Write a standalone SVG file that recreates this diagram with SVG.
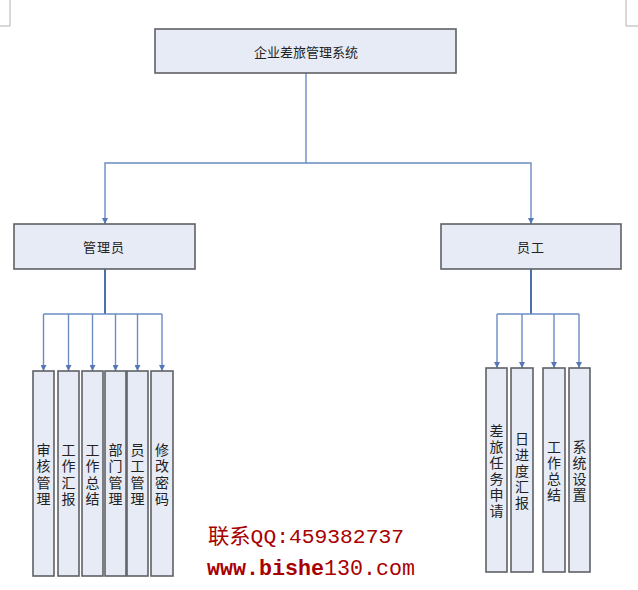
<svg xmlns="http://www.w3.org/2000/svg" width="638" height="590" viewBox="0 0 638 590">
<style>
.box{fill:#e6ebf5;stroke:#5f6166;stroke-width:1.6}
.lbl{font-family:"Noto Sans CJK SC","Noto Sans",sans-serif;font-size:13px;fill:#222;text-anchor:middle;dominant-baseline:central}
.vl{font-family:"Noto Sans CJK SC","Noto Sans",sans-serif;font-size:14px;fill:#222;text-anchor:middle;dominant-baseline:central}
.con{fill:none;stroke:#6b8cc4;stroke-width:1.4}
.trunk{fill:none;stroke:#4e6fae;stroke-width:2}
.mark{fill:none;stroke:#b0b0b0;stroke-width:1}
.wm{font-family:"Liberation Mono","Noto Sans CJK SC",monospace;fill:#a80000}
</style>
<defs>
<marker id="arr" viewBox="0 0 10 10" refX="10" refY="5" markerWidth="6" markerHeight="6" markerUnits="userSpaceOnUse" orient="auto">
<path d="M0,0 L10,5 L0,10 z" fill="#5577b5"/>
</marker>
</defs>
<g id="corner-marks">
<path class="mark" d="M10,0 V26 H0"/>
<path class="mark" d="M626,0 V26 H638"/>
</g>
<g id="connectors">
<path class="con" d="M306,73 V163 H105 V224" marker-end="url(#arr)"/>
<path class="con" d="M306,163 H531 V224" marker-end="url(#arr)"/>
<path class="trunk" d="M105,269 V314"/>
<path class="con" d="M43.5,314 H162"/>
<path class="con" d="M43.5,314 V371" marker-end="url(#arr)"/>
<path class="con" d="M68.5,314 V371" marker-end="url(#arr)"/>
<path class="con" d="M92.5,314 V371" marker-end="url(#arr)"/>
<path class="con" d="M115.5,314 V371" marker-end="url(#arr)"/>
<path class="con" d="M137.5,314 V371" marker-end="url(#arr)"/>
<path class="con" d="M162,314 V371" marker-end="url(#arr)"/>
<path class="trunk" d="M531,269 V314"/>
<path class="con" d="M497,314 H579"/>
<path class="con" d="M497,314 V368" marker-end="url(#arr)"/>
<path class="con" d="M522,314 V368" marker-end="url(#arr)"/>
<path class="con" d="M554,314 V368" marker-end="url(#arr)"/>
<path class="con" d="M579,314 V368" marker-end="url(#arr)"/>
</g>
<g id="root">
<rect class="box" x="155" y="29" width="301" height="44"/>
<text class="lbl" x="306" y="51">企业差旅管理系统</text>
</g>
<g id="admin">
<rect class="box" x="14" y="224" width="181" height="45"/>
<text class="lbl" x="104" y="246" letter-spacing="1">管理员</text>
</g>
<g id="staff">
<rect class="box" x="441" y="224" width="180" height="45"/>
<text class="lbl" x="531" y="246" letter-spacing="1">员工</text>
</g>
<g id="a1">
<rect class="box" x="33" y="371" width="21" height="205"/>
<text class="vl"><tspan x="43.5" y="448.75">审</tspan><tspan x="43.5" dy="16.5">核</tspan><tspan x="43.5" dy="16.5">管</tspan><tspan x="43.5" dy="16.5">理</tspan></text>
</g>
<g id="a2">
<rect class="box" x="58" y="371" width="21" height="205"/>
<text class="vl"><tspan x="68.5" y="448.75">工</tspan><tspan x="68.5" dy="16.5">作</tspan><tspan x="68.5" dy="16.5">汇</tspan><tspan x="68.5" dy="16.5">报</tspan></text>
</g>
<g id="a3">
<rect class="box" x="82" y="371" width="21" height="205"/>
<text class="vl"><tspan x="92.5" y="448.75">工</tspan><tspan x="92.5" dy="16.5">作</tspan><tspan x="92.5" dy="16.5">总</tspan><tspan x="92.5" dy="16.5">结</tspan></text>
</g>
<g id="a4">
<rect class="box" x="105" y="371" width="21" height="205"/>
<text class="vl"><tspan x="115.5" y="448.75">部</tspan><tspan x="115.5" dy="16.5">门</tspan><tspan x="115.5" dy="16.5">管</tspan><tspan x="115.5" dy="16.5">理</tspan></text>
</g>
<g id="a5">
<rect class="box" x="127" y="371" width="21" height="205"/>
<text class="vl"><tspan x="137.5" y="448.75">员</tspan><tspan x="137.5" dy="16.5">工</tspan><tspan x="137.5" dy="16.5">管</tspan><tspan x="137.5" dy="16.5">理</tspan></text>
</g>
<g id="a6">
<rect class="box" x="151" y="371" width="22" height="205"/>
<text class="vl"><tspan x="162" y="448.75">修</tspan><tspan x="162" dy="16.5">改</tspan><tspan x="162" dy="16.5">密</tspan><tspan x="162" dy="16.5">码</tspan></text>
</g>
<g id="s1">
<rect class="box" x="486" y="368" width="21" height="204"/>
<text class="vl"><tspan x="496.5" y="430">差</tspan><tspan x="496.5" dy="16">旅</tspan><tspan x="496.5" dy="16">任</tspan><tspan x="496.5" dy="16">务</tspan><tspan x="496.5" dy="16">申</tspan><tspan x="496.5" dy="16">请</tspan></text>
</g>
<g id="s2">
<rect class="box" x="511" y="368" width="22" height="204"/>
<text class="vl"><tspan x="522" y="438">日</tspan><tspan x="522" dy="16">进</tspan><tspan x="522" dy="16">度</tspan><tspan x="522" dy="16">汇</tspan><tspan x="522" dy="16">报</tspan></text>
</g>
<g id="s3">
<rect class="box" x="543" y="368" width="22" height="204"/>
<text class="vl"><tspan x="554" y="446">工</tspan><tspan x="554" dy="16">作</tspan><tspan x="554" dy="16">总</tspan><tspan x="554" dy="16">结</tspan></text>
</g>
<g id="s4">
<rect class="box" x="569" y="368" width="21" height="204"/>
<text class="vl"><tspan x="579.5" y="446">系</tspan><tspan x="579.5" dy="16">统</tspan><tspan x="579.5" dy="16">设</tspan><tspan x="579.5" dy="16">置</tspan></text>
</g>
<g id="watermark">
<text class="wm" x="208" y="543" font-size="21" textLength="196" lengthAdjust="spacingAndGlyphs">联系QQ:459382737</text>
<text class="wm" x="207" y="575" font-size="21.5" textLength="208" lengthAdjust="spacingAndGlyphs"><tspan font-weight="bold">www.bishe</tspan>130.com</text>
</g>
</svg>
